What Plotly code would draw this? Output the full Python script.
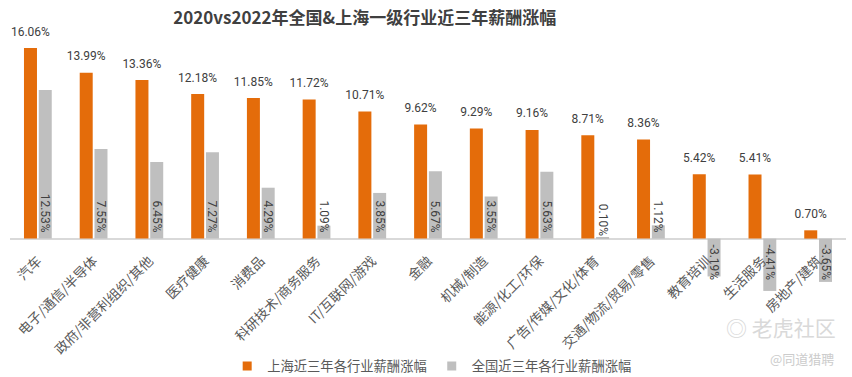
import plotly.graph_objects as go

categories = ["汽车", "电子/通信/半导体", "政府/非营利组织/其他", "医疗健康", "消费品",
              "科研技术/商务服务", "IT/互联网/游戏", "金融", "机械/制造", "能源/化工/环保",
              "广告/传媒/文化/体育", "交通/物流/贸易/零售", "教育培训", "生活服务", "房地产/建筑"]
shanghai = [16.06, 13.99, 13.36, 12.18, 11.85, 11.72, 10.71, 9.62, 9.29, 9.16, 8.71, 8.36, 5.42, 5.41, 0.70]
national = [12.53, 7.55, 6.45, 7.27, 4.29, 1.09, 3.85, 5.67, 3.55, 5.63, 0.10, 1.12, -3.19, -4.41, -3.65]

title_text = "2020vs2022年全国&上海一级行业近三年薪酬涨幅"
series_names = ["上海近三年各行业薪酬涨幅", "全国近三年各行业薪酬涨幅"]

ORANGE = "#e46c0a"
GRAY = "#bfbfbf"
YMIN, YMAX = -4.5, 17.5
LABEL_PAD = 0.55  # extra space (in axis units) between orange bars and their labels
NB = "\u00a0"

fig = go.Figure()
fig.add_trace(go.Bar(
    x=categories, y=shanghai, name=series_names[0], showlegend=False, offsetgroup="sh",
    marker=dict(color=ORANGE, line=dict(width=0)),
))
# transparent spacer carrying the orange value labels slightly above the bars
fig.add_trace(go.Bar(
    x=categories, y=[LABEL_PAD] * len(shanghai), base=shanghai, offsetgroup="sh",
    showlegend=False, hoverinfo="skip",
    marker=dict(color="rgba(0,0,0,0)", line=dict(width=0)),
    text=[f"{v:.2f}%" for v in shanghai], textposition="outside",
    textfont=dict(family="Roboto, Noto Sans", size=12, color="#404040"),
    cliponaxis=False, constraintext="none",
))
fig.add_trace(go.Bar(
    x=categories, y=national, name=series_names[1], showlegend=False, offsetgroup="qg",
    marker=dict(color=GRAY, line=dict(width=0)),
    text=[f"{NB}{v:.2f}%{NB}" for v in national], textposition="inside",
    insidetextanchor="start", textangle=90,
    textfont=dict(family="Roboto, Noto Sans", size=12, color="#404040"),
    cliponaxis=False, constraintext="none",
))
# legend entries (square swatches)
for name, col in zip(series_names, [ORANGE, GRAY]):
    fig.add_trace(go.Scatter(
        x=[None], y=[None], mode="markers", name=name,
        marker=dict(symbol="square", size=9, color=col), showlegend=True,
    ))

fig.update_layout(
    width=852, height=377,
    margin=dict(l=10, r=6, t=31, b=85, autoexpand=False),
    paper_bgcolor="white", plot_bgcolor="white",
    barmode="group", bargap=0.47, bargroupgap=0.12,
    font=dict(family="Noto Sans CJK SC, Noto Sans", color="#595959"),
    title=dict(text=title_text, x=0.428, xanchor="center", y=0.952, yanchor="middle",
               font=dict(family="Noto Sans CJK SC", size=17, color="#404040", weight="bold")),
    showlegend=True,
    legend=dict(orientation="h", x=0.505, xanchor="center", y=-0.285, yanchor="middle",
                font=dict(size=13.3, color="#595959", family="Noto Sans CJK SC"),
                itemwidth=30, traceorder="normal"),
)
fig.update_xaxes(
    type="category", anchor="free", position=(0 - YMIN) / (YMAX - YMIN),
    showline=False, ticks="outside", ticklen=8, tickcolor="rgba(0,0,0,0)",
    tickangle=-45, showgrid=False, automargin=False,
    tickfont=dict(family="Noto Sans CJK SC", size=13.5, color="#595959"),
)
fig.update_yaxes(
    range=[YMIN, YMAX], visible=True, showticklabels=False, showgrid=False, automargin=False,
    zeroline=True, zerolinecolor="#d9d9d9", zerolinewidth=2, ticks="",
)

fig.add_annotation(text="◎ 老虎社区", xref="paper", yref="paper",
                   x=(838 - 10) / 836, y=(291 - 326) / 261, xanchor="right", yanchor="middle",
                   showarrow=False, font=dict(family="Noto Sans CJK SC", size=21, color="#d9d9d9"))
fig.add_annotation(text="@同道猎聘", xref="paper", yref="paper",
                   x=(836 - 10) / 836, y=(291 - 357) / 261, xanchor="right", yanchor="middle",
                   showarrow=False, font=dict(family="Noto Sans CJK SC", size=13, color="#cccccc"))

fig.write_html("out.html", config={"displayModeBar": False},
               post_script="document.body.style.margin='0';document.body.style.padding='0';")
